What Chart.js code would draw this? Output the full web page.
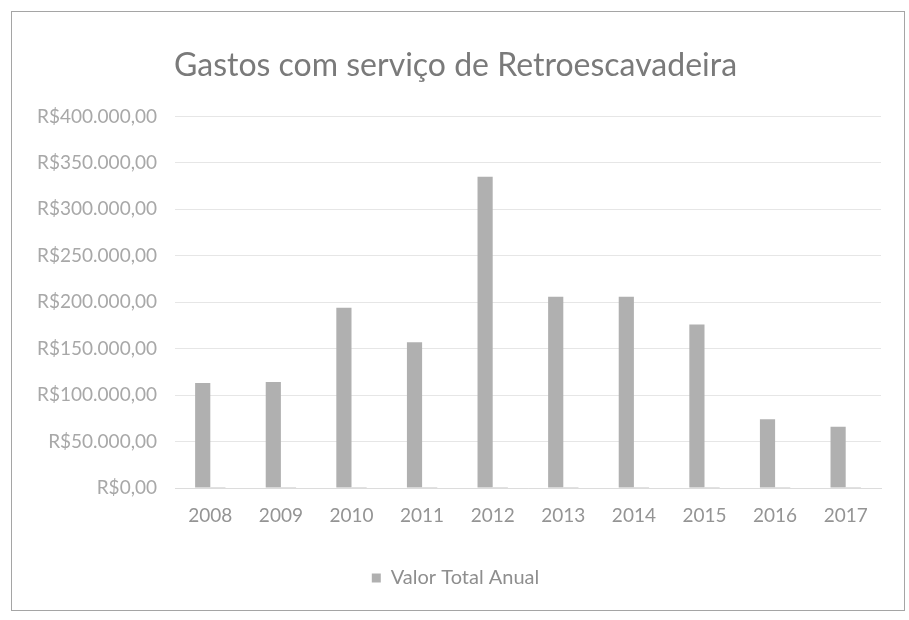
<!DOCTYPE html>
<html>
<head>
<meta charset="utf-8">
<script src="https://cdn.jsdelivr.net/npm/chart.js@4"></script>
<style>
  body { margin: 0; background: #fff; }
  #caixa { position: absolute; left: 11px; top: 11px; width: 894px; height: 600px; border: 1px solid #a5a5a5; box-sizing: border-box; }
  #grafico { position: absolute; left: 0; top: 0; }
</style>
</head>
<body>
<div id="caixa"></div>
<canvas id="grafico" width="909" height="620"></canvas>
<script>
// dados
const anos = ['2008', '2009', '2010', '2011', '2012', '2013', '2014', '2015', '2016', '2017']
const valorTotalAnual = [113000, 114000, 194000, 157000, 335000, 206000, 206000, 176000, 74000, 66000]
// segunda serie quase zero (so aparece como um tracinho na base)
const serieBase = [1200, 1200, 1200, 1200, 1200, 1200, 1200, 1200, 1200, 1200]
const ticksY = [0, 50000, 100000, 150000, 200000, 250000, 300000, 350000, 400000]

function formataReal(v) {
    let inteiro = Math.round(v).toString().replace(/\B(?=(\d{3})+(?!\d))/g, '.')
    return 'R$' + inteiro + ',00'
}

const ctx = document.getElementById('grafico')

new Chart(ctx, {
    type: 'bar',
    data: {
        labels: anos,
        datasets: [{
            label: 'Valor Total Anual',
            data: valorTotalAnual,
            backgroundColor: '#b0b0b0',
            barPercentage: 1,
            categoryPercentage: 0.43
        }, {
            label: 'base',
            data: serieBase,
            backgroundColor: '#c4c4c4',
            barPercentage: 1,
            categoryPercentage: 0.43
        }]
    },
    options: {
        responsive: false,
        animation: false,
        layout: { padding: { left: 30, right: 28, top: 40, bottom: 22 } },
        plugins: {
            title: {
                display: true,
                text: 'Gastos com serviço de Retroescavadeira',
                color: '#7a7a7a',
                font: { family: 'Lato', size: 32, weight: 'normal' },
                padding: { top: 6, bottom: 32 }
            },
            legend: {
                position: 'bottom',
                labels: {
                    color: '#8e8e8e',
                    font: { family: 'Lato', size: 20 },
                    boxWidth: 9,
                    boxHeight: 9,
                    padding: 25,
                    filter: (item) => item.datasetIndex === 0
                }
            },
            tooltip: { enabled: false }
        },
        scales: {
            x: {
                grid: { display: false, drawTicks: false },
                border: { color: '#dcdcdc' },
                ticks: { color: '#949494', font: { family: 'Lato', size: 19 }, padding: 16 },
                afterFit: (eixo) => { eixo.height = 55 }
            },
            y: {
                min: 0,
                max: 400000,
                afterBuildTicks: (eixo) => { eixo.ticks = ticksY.map(v => ({ value: v })) },
                afterFit: (eixo) => { eixo.width = 145 },
                grid: { color: '#e6e6e6', drawTicks: false },
                border: { display: false },
                ticks: {
                    color: '#a8a8a8',
                    font: { family: 'Lato', size: 19 },
                    padding: 18,
                    callback: (v) => formataReal(v)
                }
            }
        }
    }
})
</script>
</body>
</html>
